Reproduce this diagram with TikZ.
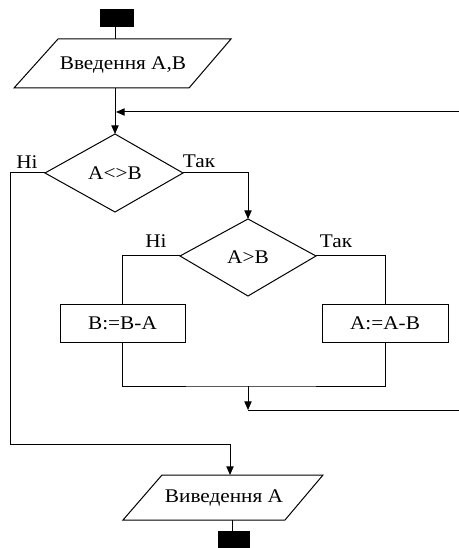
\documentclass[tikz,border=0pt]{standalone}
\usepackage{fontspec}
\setmainfont{Liberation Serif}[FakeStretch=1.1]
\usetikzlibrary{arrows.meta}
\begin{document}
\begin{tikzpicture}[x=0.75pt,y=-0.75pt,
  line width=0.75pt,
  txt/.style={inner sep=0pt,font=\fontsize{14.5}{16}\selectfont},
  lbl/.style={inner sep=0pt,font=\fontsize{14.5}{16}\selectfont},
  arr/.style={-{Triangle[length=6.5pt,width=5.5pt]}},
  term/.style={fill=black,draw=black}]
\useasboundingbox (0,0) rectangle (459,548);
% terminals
\coordinate (st1) at (100,10); \coordinate (st2) at (133,27);
\coordinate (st) at (115,27);
\fill[term] (st1) rectangle (st2);
\coordinate (en1) at (218,531); \coordinate (en2) at (249,548);
\coordinate (en) at (232,531);
\fill[term] (en1) rectangle (en2);
% input parallelogram
\coordinate (in1) at (58,39); \coordinate (in2) at (231,39);
\coordinate (in3) at (189,88); \coordinate (in4) at (14,88);
\draw (in1)--(in2)--(in3)--(in4)--cycle;
\node[txt] (intext) at (123,65) {Введення A,B};
\coordinate (intop) at (115,39); \coordinate (inbot) at (115,88);
% diamond 1
\coordinate (d1t) at (115,134); \coordinate (d1r) at (183,173);
\coordinate (d1b) at (115,212); \coordinate (d1l) at (45,173);
\draw (d1t)--(d1r)--(d1b)--(d1l)--cycle;
\node[txt] (d1) at (115,173) {A<>B};
\node[lbl] (d1no) at (27,162) {Ні};
\node[lbl] (d1yes) at (199,161) {Так};
% diamond 2
\coordinate (d2t) at (248,219); \coordinate (d2r) at (316,256);
\coordinate (d2b) at (248,296); \coordinate (d2l) at (180,256);
\draw (d2t)--(d2r)--(d2b)--(d2l)--cycle;
\node[txt] (d2) at (248,257) {A>B};
\node[lbl] (d2no) at (156,241) {Ні};
\node[lbl] (d2yes) at (336,241) {Так};
% boxes
\node[draw,minimum width=93.75pt,minimum height=28.5pt,inner sep=0pt,font=\fontsize{14.5}{16}\selectfont] (bl) at (122.5,323) {B:=B-A};
\node[draw,minimum width=94.5pt,minimum height=28.5pt,inner sep=0pt,font=\fontsize{14.5}{16}\selectfont] (br) at (385,323) {A:=A-B};
% output parallelogram
\coordinate (o1) at (162,475); \coordinate (o2) at (323,475);
\coordinate (o3) at (285,520); \coordinate (o4) at (123,520);
\draw (o1)--(o2)--(o3)--(o4)--cycle;
\node[txt] (outtext) at (224,498) {Виведення A};
\coordinate (otop) at (230,475); \coordinate (obot) at (232,520);
% connectors
\draw (st) -- (intop);
\draw[arr] (inbot) -- (d1t);
\draw (d1r) -| (248,190) coordinate (c1);
\draw[arr] (c1) -- (d2t);
\draw (d2l) -| (bl.north);
\draw (d2r) -| (br.north);
\coordinate (mrg) at (248,386);
\draw (bl.south) |- (mrg) -| (br.south);
\coordinate (mrg2) at (248,410);
\draw[arr] (mrg) -- (mrg2);
\coordinate (rgt) at (459,410);
\coordinate (rgt2) at (459,112);
\coordinate (loopin) at (116,112);
\draw (mrg2) -- (rgt) -- (rgt2) -- (200,112) coordinate (lp);
\draw[arr] (lp) -- (loopin);
\coordinate (lft) at (10,444);
\draw (d1l) -| (lft) -| (230,455) coordinate (c2);
\draw[arr] (c2) -- (otop);
\draw (obot) -- (en);
\end{tikzpicture}
\end{document}
